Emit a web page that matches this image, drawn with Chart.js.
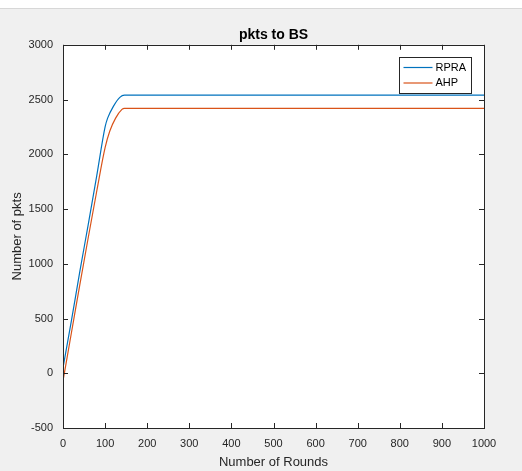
<!DOCTYPE html>
<html>
<head>
<meta charset="utf-8">
<title>pkts to BS</title>
<script src="https://cdn.jsdelivr.net/npm/chart.js@4.4.0/dist/chart.umd.min.js"></script>
<style>
    html, body { margin: 0; padding: 0; background: #f0f0f0; overflow: hidden; }
    canvas { display: block; }
</style>
</head>
<body>
<canvas id="pktsChart" width="522" height="471"></canvas>
<script>
// values
const rpraRounds = [0, 20, 40, 60, 80, 100, 106, 120, 135, 146, 1000];
const rpraPkts   = [50, 480, 930, 1360, 1800, 2250, 2330, 2440, 2520, 2540, 2540];
const ahpRounds  = [0, 20, 40, 60, 80, 100, 111, 125, 140, 146, 1000];
const ahpPkts    = [-70, 370, 810, 1240, 1660, 2060, 2210, 2330, 2410, 2420, 2420];

const xTicks = [0, 100, 200, 300, 400, 500, 600, 700, 800, 900, 1000];
const yTicks = [-500, 0, 500, 1000, 1500, 2000, 2500, 3000];

const axisColor = '#262626';

function toPoints(xs, ys) {
    return xs.map((x, i) => ({ x: x, y: ys[i] }));
}

Chart.defaults.font.family = "'Liberation Sans', Arial, sans-serif";
Chart.defaults.color = axisColor;

// figure background (grey) and white axes area
const figureBackground = {
    id: 'figureBackground',
    beforeDraw(chart) {
        const ctx = chart.ctx;
        const a = chart.chartArea;
        ctx.save();
        ctx.fillStyle = '#f0f0f0';
        ctx.fillRect(0, 0, chart.width, chart.height);
        // toolbar strip at the top
        ctx.fillStyle = '#ffffff';
        ctx.fillRect(0, 0, chart.width, 8);
        ctx.fillStyle = '#d7d7d7';
        ctx.fillRect(0, 8, chart.width, 1);
        ctx.fillStyle = '#ffffff';
        ctx.fillRect(a.left, a.top, a.right - a.left, a.bottom - a.top);
        ctx.restore();
    }
};

// matlab style box, inward ticks on all sides, boxed legend
const matlabBox = {
    id: 'matlabBox',
    afterDatasetsDraw(chart) {
        const ctx = chart.ctx;
        const a = chart.chartArea;
        const xs = chart.scales.x;
        const ys = chart.scales.y;
        const len = 5;
        ctx.save();
        ctx.strokeStyle = axisColor;
        ctx.lineWidth = 1;
        ctx.beginPath();
        xTicks.forEach(v => {
            const px = Math.round(xs.getPixelForValue(v)) + 0.5;
            ctx.moveTo(px, a.bottom);
            ctx.lineTo(px, a.bottom - len);
            ctx.moveTo(px, a.top);
            ctx.lineTo(px, a.top + len);
        });
        yTicks.forEach(v => {
            const py = Math.round(ys.getPixelForValue(v)) + 0.5;
            ctx.moveTo(a.left, py);
            ctx.lineTo(a.left + len, py);
            ctx.moveTo(a.right, py);
            ctx.lineTo(a.right - len, py);
        });
        ctx.stroke();
        ctx.strokeRect(Math.round(a.left) + 0.5, Math.round(a.top) + 0.5,
            Math.round(a.right - a.left), Math.round(a.bottom - a.top));

        // legend
        const lx = 399.5, ly = 57.5, lw = 72, lh = 36;
        ctx.fillStyle = '#ffffff';
        ctx.fillRect(lx, ly, lw, lh);
        ctx.strokeRect(lx, ly, lw, lh);
        ctx.font = "11px 'Liberation Sans', Arial, sans-serif";
        ctx.textBaseline = 'middle';
        chart.data.datasets.forEach((ds, i) => {
            const y = ly + 10 + i * 15.5;
            ctx.strokeStyle = ds.borderColor;
            ctx.lineWidth = 1.2;
            ctx.beginPath();
            ctx.moveTo(lx + 4, y);
            ctx.lineTo(lx + 33, y);
            ctx.stroke();
            ctx.fillStyle = '#000000';
            ctx.fillText(ds.label, lx + 36, y);
        });
        ctx.restore();
    }
};

new Chart(document.getElementById('pktsChart'), {
    type: 'line',
    data: {
        datasets: [{
            label: 'RPRA',
            data: toPoints(rpraRounds, rpraPkts),
            borderColor: '#0072BD',
            borderWidth: 1.2,
            pointRadius: 0,
            cubicInterpolationMode: 'monotone',
            fill: false
        }, {
            label: 'AHP',
            data: toPoints(ahpRounds, ahpPkts),
            borderColor: '#D95319',
            borderWidth: 1.2,
            pointRadius: 0,
            cubicInterpolationMode: 'monotone',
            fill: false
        }]
    },
    options: {
        responsive: false,
        animation: false,
        events: [],
        layout: {
            padding: { top: 0, left: 0, right: 38, bottom: 0 }
        },
        plugins: {
            legend: { display: false },
            tooltip: { enabled: false },
            title: {
                display: true,
                text: 'pkts to BS',
                color: '#000000',
                fullSize: false,
                font: { size: 14, weight: 'bold' },
                padding: { top: 27, bottom: 1 }
            }
        },
        scales: {
            x: {
                type: 'linear',
                min: 0,
                max: 1000,
                grid: { display: false, drawTicks: false },
                border: { display: false },
                ticks: {
                    stepSize: 100,
                    maxRotation: 0,
                    padding: 9,
                    font: { size: 11 },
                    color: axisColor,
                    callback: v => String(v)
                },
                title: {
                    display: true,
                    text: 'Number of Rounds',
                    font: { size: 13 },
                    color: axisColor,
                    padding: { top: 0, bottom: 1 }
                },
                afterFit(scale) { scale.height = 43; }
            },
            y: {
                type: 'linear',
                min: -500,
                max: 3000,
                grid: { display: false, drawTicks: false },
                border: { display: false },
                ticks: {
                    stepSize: 500,
                    padding: 10,
                    font: { size: 11 },
                    color: axisColor,
                    callback: v => String(v)
                },
                title: {
                    display: true,
                    text: 'Number of pkts',
                    font: { size: 13 },
                    color: axisColor,
                    padding: { top: 10, bottom: 0 }
                },
                afterFit(scale) { scale.width = 63; }
            }
        }
    },
    plugins: [figureBackground, matlabBox]
});
</script>
</body>
</html>
